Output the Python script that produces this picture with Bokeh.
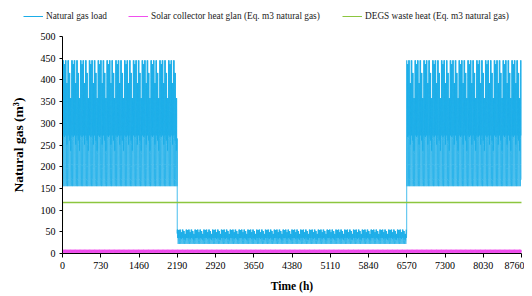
import numpy as np
from bokeh.plotting import figure
from bokeh.layouts import column
from bokeh.models import Range1d, FixedTicker, Legend, LegendItem
from bokeh.embed import file_html
from bokeh.resources import INLINE

# ---- data ----
season_breaks = [2190, 6570]          # heating season ends / starts (h)
x_ticks = [0, 730, 1460, 2190, 2920, 3650, 4380, 5110, 5840, 6570, 7300, 8030, 8760]
y_ticks = [0, 50, 100, 150, 200, 250, 300, 350, 400, 450, 500]

# hourly natural gas load, typical heating-season day (m3)
winter_day = [155, 156, 160, 172, 205, 265, 335, 405, 445, 432, 385, 325,
              292, 272, 282, 305, 355, 420, 445, 402, 332, 262, 205, 170]
# hourly natural gas load, typical non-heating day (m3)
summer_day = [22, 23, 25, 27, 31, 38, 46, 52, 55, 50, 44, 40,
              38, 36, 38, 42, 48, 55, 52, 46, 38, 31, 27, 24]
# day-to-day peak factors (repeating weekly)
day_factor = [1.00, 0.97, 1.00, 0.82, 1.00, 0.90, 0.70]
# DEGS waste heat (eq. m3 natural gas) through a day
degs_day = [117, 118, 116, 117, 119, 117, 116, 118, 117, 119, 116, 117,
            118, 117, 116, 119, 117, 118, 116, 117, 118, 117, 119, 116]
degs_start = 60
# solar collector heat gain (eq. m3 natural gas) through a day
solar_day = [2, 3, 2, 4, 3, 5, 6, 7, 8, 6, 9, 5,
             4, 6, 7, 5, 8, 6, 4, 5, 3, 4, 2, 3]

labels = ["Natural gas load",
          "Solar collector heat glan (Eq. m3 natural gas)",
          "DEGS waste heat (Eq. m3 natural gas)"]
colors = ["#1BADE8", "#F04FEE", "#8CC63F"]

# ---- build hourly series ----
hours = np.arange(8760)
hod = hours % 24
dow = (hours // 24) % 7
wd = np.array(winter_day, float)
sd = np.array(summer_day, float)
f = np.array(day_factor)[dow]
winter = wd.min() + (wd[hod] - wd.min()) * f
summer = sd.min() + (sd[hod] - sd.min()) * f
heating = (hours < season_breaks[0]) | (hours >= season_breaks[1])
load = np.where(heating, winter, summer)
degs = np.array(degs_day, float)[hod]
degs[0] = degs_start
solar = np.array(solar_day, float)[hod]
series = [load, solar, degs]

FONT = "Liberation Serif"

# ---- legend strip (own small figure so it can sit left of the axis) ----
lg_fig = figure(width=524, height=30, output_backend="svg", toolbar_location=None,
                x_axis_location=None, y_axis_location=None,
                min_border_left=0, min_border_right=0, min_border_top=0, min_border_bottom=0,
                x_range=Range1d(0, 8760), y_range=Range1d(-20, -10))
lg_fig.frame_align = False
lg_fig.outline_line_color = None
lg_fig.grid.visible = False
# same series, kept out of this strip's visible range: only their legend swatches show
lg_rends = [lg_fig.line(hours, s, line_color=c, line_width=1.0) for s, c in zip(series, colors)]
legend_x = [23, 128, 342]
for lab, r, lx in zip(labels, lg_rends, legend_x):
    legend = Legend(items=[LegendItem(label=lab, renderers=[r])],
                    location=(lx, 9), orientation="horizontal",
                    padding=0, margin=0, spacing=0,
                    glyph_width=20, glyph_height=10, label_height=10,
                    label_standoff=3,
                    label_text_font=FONT, label_text_font_size="9.3px",
                    label_text_color="#222222",
                    border_line_alpha=0, background_fill_alpha=0)
    lg_fig.add_layout(legend, "center")

# ---- main chart ----
p = figure(width=524, height=264, output_backend="svg", toolbar_location=None,
           x_range=Range1d(0, 8760), y_range=Range1d(0, 500),
           min_border_left=62, min_border_right=3, min_border_top=6, min_border_bottom=40)
p.frame_align = False
p.outline_line_color = None
p.grid.visible = False
p.background_fill_color = "white"

r_load = p.line(hours, load, line_color=colors[0], line_width=0.8)
r_degs = p.line(hours, degs, line_color=colors[2], line_width=1.1)
r_solar = p.line(hours, solar, line_color=colors[1], line_width=0.8)

for ax in (p.xaxis[0], p.yaxis[0]):
    ax.axis_line_color = "black"
    ax.major_tick_line_color = "black"
    ax.minor_tick_line_color = None
    ax.major_tick_in = 0
    ax.major_label_text_font = FONT
    ax.major_label_text_font_size = "10px"
    ax.major_label_text_color = "black"
    ax.axis_label_text_font = FONT
    ax.axis_label_text_font_style = "bold"
    ax.axis_label_text_color = "black"

p.xaxis.axis_label_text_font_size = "11.5px"
p.yaxis.axis_label_text_font_size = "13.5px"
p.xaxis.ticker = FixedTicker(ticks=x_ticks)
p.yaxis.ticker = FixedTicker(ticks=y_ticks)
p.xaxis.major_tick_out = 4
p.yaxis.major_tick_out = 3
p.xaxis.major_label_standoff = 4
p.yaxis.major_label_standoff = 4
p.xaxis.axis_label = "Time (h)"
p.yaxis.axis_label = "Natural gas (m³)"
p.xaxis.axis_label_standoff = 8
p.yaxis.axis_label_standoff = 12

layout = column(lg_fig, p, spacing=0)
open("out.html", "w").write(file_html(layout, INLINE))
